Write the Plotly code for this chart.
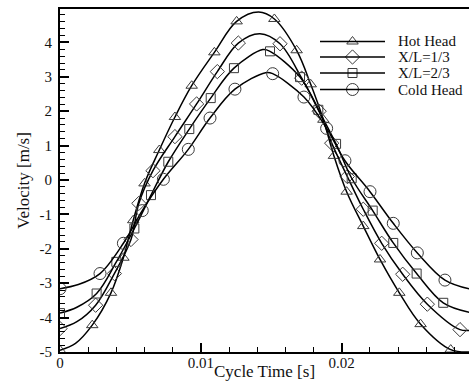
import plotly.graph_objects as go

# ---------------- data ----------------
series_names = ["Hot Head", "X/L=1/3", "X/L=2/3", "Cold Head"]

# marker positions
hot_mt = [0, 0.00229, 0.00362, 0.0045, 0.0052, 0.0060, 0.00705, 0.00816, 0.00935, 0.01096, 0.01254,
          0.01522, 0.0168, 0.0178, 0.0187, 0.01945, 0.02035, 0.02153, 0.02272, 0.02409, 0.0256, 0.02774]
hot_mv = [-4.95, -4.22, -3.28, -2.26, -1.17, -0.10, 0.87, 1.83, 2.74, 3.71, 4.61,
          4.68, 3.77, 2.78, 1.75, 0.70, -0.34, -1.34, -2.31, -3.28, -4.19, -4.93]
hot_xt = [0.0011, 0.0141, 0.0291]
hot_xv = [-4.75, 4.88, -5.0]

third_mt = [0, 0.00253, 0.00386, 0.00504, 0.0056, 0.0066, 0.00816, 0.0097, 0.01117, 0.01266,
            0.01562, 0.01716, 0.0184, 0.01929, 0.0204, 0.02153, 0.02284, 0.02433, 0.02608, 0.0284]
third_mv = [-4.32, -3.64, -2.72, -1.73, -0.68, 0.27, 1.26, 2.21, 3.15, 3.98,
            3.96, 2.96, 2.00, 1.07, 0.10, -0.85, -1.84, -2.74, -3.61, -4.35]
third_xt = [0.0012, 0.0142, 0.0291]
third_xv = [-4.12, 4.25, -4.37]

twothird_mt = [0, 0.0026, 0.0040, 0.00528, 0.00646, 0.00769, 0.00918, 0.0107, 0.01235,
               0.01491, 0.01704, 0.01834, 0.0196, 0.02071, 0.0222, 0.02366, 0.02532, 0.02721]
twothird_mv = [-3.87, -3.30, -2.38, -1.41, -0.44, 0.53, 1.48, 2.38, 3.25,
               3.74, 2.99, 2.04, 1.05, 0.05, -0.89, -1.83, -2.72, -3.57]
twothird_xt = [0.0012, 0.0144, 0.0291]
twothird_xv = [-3.70, 3.79, -3.85]

cold_mt = [0, 0.00284, 0.0045, 0.00584, 0.00734, 0.00911, 0.01065, 0.01242,
           0.0151, 0.01732, 0.01893, 0.02023, 0.02201, 0.02366, 0.02537, 0.02733]
cold_mv = [-3.16, -2.72, -1.84, -0.89, 0.02, 0.89, 1.80, 2.64,
           3.09, 2.41, 1.50, 0.56, -0.34, -1.26, -2.12, -2.91]
cold_xt = [0.0013, 0.0146, 0.0291]
cold_xv = [-3.04, 3.12, -3.17]

x_ticks = [0, 0.01, 0.02]
x_ticklabels = ["0", "0.01", "0.02"]
y_ticks = [-5, -4, -3, -2, -1, 0, 1, 2, 3, 4]
y_ticklabels = ["-5", "-4", "-3", "-2", "-1", "0", "1", "2", "3", "4"]

# ---------------- styling ----------------
symbols = ["triangle-up-open", "diamond-open", "square-open", "circle-open"]
msizes = [10, 11, 9, 12]
FONT = "Liberation Serif, Times New Roman, serif"
W, H = 469, 387
ML, MR, MT, MB = 60, 0, 9, 35
PW, PH = W - ML - MR, H - MT - MB

fig = go.Figure()

all_series = [
    (hot_mt, hot_mv, hot_xt, hot_xv),
    (third_mt, third_mv, third_xt, third_xv),
    (twothird_mt, twothird_mv, twothird_xt, twothird_xv),
    (cold_mt, cold_mv, cold_xt, cold_xv),
]

for i, (mt, mv, xt, xv) in enumerate(all_series):
    pts = sorted(zip(list(mt) + list(xt), list(mv) + list(xv)))
    fig.add_trace(go.Scatter(
        x=[p[0] for p in pts], y=[p[1] for p in pts], mode="lines",
        line=dict(color="black", width=1.5, shape="spline", smoothing=1.0),
        showlegend=False, hoverinfo="skip", cliponaxis=True))
    fig.add_trace(go.Scatter(
        x=mt, y=mv, mode="markers",
        marker=dict(symbol=symbols[i], size=msizes[i], color="#3a3a3a",
                    line=dict(width=1, color="#3a3a3a")),
        showlegend=False, cliponaxis=True))

# ---------------- manual legend (pixel layout -> paper fractions) ----------------
leg_rows_px = [41.5, 57.0, 73.0, 89.5]
line_x0, line_x1, text_x = 320, 385, 396
def fx(px):
    return (px - ML) / PW
def fy(py):
    return (H - MB - py) / PH

for i, name in enumerate(series_names):
    yy = fy(leg_rows_px[i])
    fig.add_shape(type="line", xref="paper", yref="paper",
                  x0=fx(line_x0), x1=fx(line_x1), y0=yy, y1=yy,
                  line=dict(color="black", width=1.6))
    fig.add_trace(go.Scatter(
        x=[fx((line_x0 + line_x1) / 2)], y=[yy], xaxis="x2", yaxis="y2", mode="markers",
        marker=dict(symbol=symbols[i], size=msizes[i], color="#3a3a3a",
                    line=dict(width=1, color="#3a3a3a")),
        showlegend=False, hoverinfo="skip"))
    fig.add_annotation(x=fx(text_x), y=yy, xref="paper", yref="paper",
                       text=name, showarrow=False, xanchor="left", yanchor="middle",
                       font=dict(family=FONT, size=15, color="#111"))

# x-axis title placed as annotation (center ~y=371 px)
fig.add_annotation(x=0.5, y=fy(371), xref="paper", yref="paper", text="Cycle Time [s]",
                   showarrow=False, xanchor="center", yanchor="middle",
                   font=dict(family=FONT, size=17, color="#111"))

axis_common = dict(
    showgrid=False, zeroline=False, showline=True, linecolor="black", linewidth=2,
    ticks="inside", ticklen=9, tickwidth=1.5, tickcolor="black",
    tickfont=dict(family=FONT, size=15, color="#111"),
)

fig.update_layout(
    width=W, height=H,
    margin=dict(l=ML, r=MR, t=MT, b=MB),
    paper_bgcolor="white", plot_bgcolor="white",
    showlegend=False,
    xaxis=dict(
        range=[0, (W - ML - MR) / 14085.0], tickvals=x_ticks, ticktext=x_ticklabels,
        mirror=True, ticklabelstandoff=-4,
        minor=dict(dtick=0.002, tick0=0, ticks="inside", ticklen=5, tickwidth=1, tickcolor="black"),
        **axis_common),
    yaxis=dict(
        range=[-5.0, 4.97], tickvals=y_ticks, ticktext=y_ticklabels,
        ticklabelstandoff=3,
        minor=dict(dtick=0.2, tick0=0, ticks="inside", ticklen=5, tickwidth=1, tickcolor="black"),
        title=dict(text="Velocity [m/s]", font=dict(family=FONT, size=17, color="#111"), standoff=6),
        **axis_common),
    xaxis2=dict(overlaying="x", range=[0, 1], visible=False, domain=[0, 1]),
    yaxis2=dict(overlaying="y", range=[0, 1], visible=False),
)

fig.write_html("out.html")
